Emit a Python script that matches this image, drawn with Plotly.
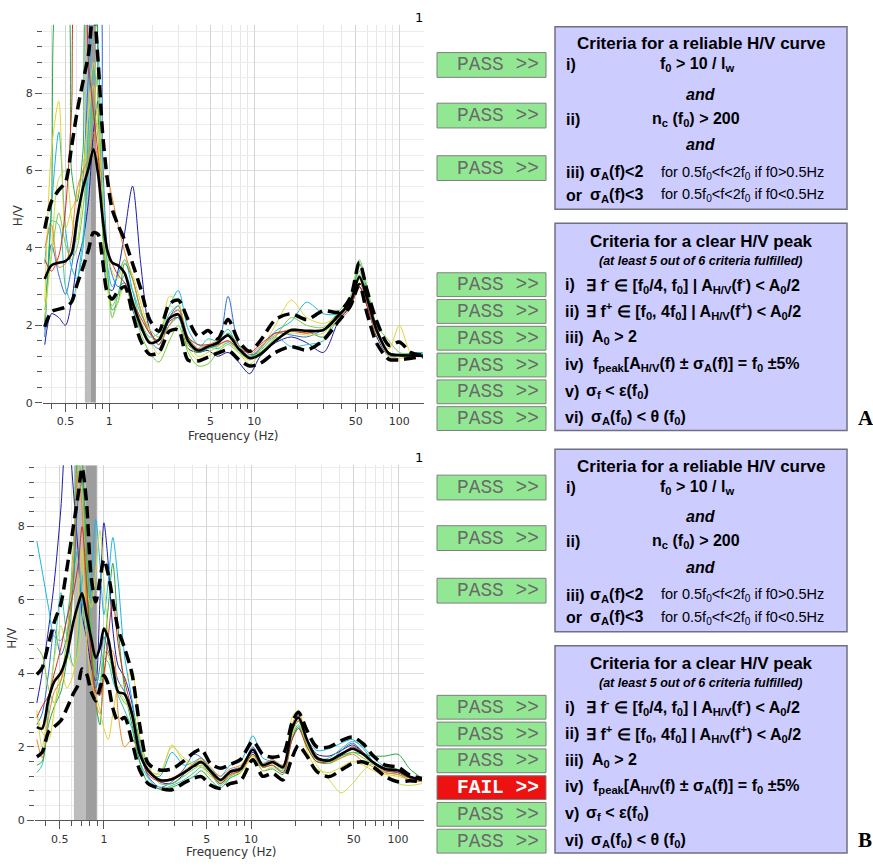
import plotly.graph_objects as go
import math

W, H = 873, 866

# ---------------- panel A data ----------------
freq_a = [0.36, 0.40, 0.45, 0.50, 0.55, 0.60, 0.66, 0.72, 0.78, 0.84, 0.90, 0.97, 1.05, 1.15, 1.28, 1.45,
          1.65, 1.9, 2.2, 2.6, 3.0, 3.5, 4.1, 4.8, 5.6, 6.6, 7.8, 9.3, 11, 14, 18, 23, 30, 38, 46, 53,
          60, 70, 85, 100, 120, 145]
mean_a = [3.2, 3.55, 3.62, 3.66, 3.85, 4.75, 5.55, 6.05, 6.55, 5.9, 4.8, 3.95, 3.62, 3.55, 3.35, 2.6,
          2.0, 1.55, 1.62, 2.18, 2.28, 1.6, 1.35, 1.45, 1.55, 1.74, 1.4, 1.15, 1.25, 1.6, 1.88, 1.86, 1.88,
          2.25, 2.6, 3.25, 2.7, 1.87, 1.27, 1.23, 1.22, 1.21]
upper_a = [4.5, 5.2, 5.5, 5.7, 6.6, 7.5, 8.3, 9.0, 10.2, 8.8, 7.0, 5.8, 5.0, 4.6, 4.2, 3.6,
           2.95, 2.15, 1.85, 2.55, 2.65, 2.15, 1.72, 1.87, 1.65, 2.15, 1.6, 1.33, 1.6, 2.15, 2.3, 2.15, 2.38,
           2.34, 2.72, 3.62, 2.9, 2.1, 1.48, 1.57, 1.3, 1.23]
lower_a = [1.96, 2.35, 2.42, 2.47, 2.6, 3.05, 3.5, 3.95, 4.4, 4.35, 3.7, 2.85, 2.68, 2.88, 3.0, 2.3,
           1.6, 1.25, 1.3, 1.85, 1.88, 1.1, 1.08, 1.18, 1.28, 1.36, 1.12, 0.95, 1.02, 1.3, 1.45, 1.36, 1.62,
           2.1, 2.5, 3.05, 2.3, 1.53, 1.12, 1.11, 1.15, 1.19]
win_a1 = [1.5, 2.3, 2.2, 2.0, 2.6, 3.6, 4.2, 5.2, 7.0, 7.8, 5.2, 3.0, 2.9, 3.4, 4.4, 5.6, 3.6, 1.9, 1.5, 2.1, 2.2,
          1.4, 1.3, 1.35, 1.2, 1.3, 1.05, 0.75, 1.2, 1.55, 1.7, 1.55, 1.3, 2.1, 2.5, 3.0, 2.5, 1.7, 1.2, 1.2, 1.25, 1.25]
win_a2 = [1.7, 4.1, 3.3, 2.8, 3.5, 4.5, 5.8, 8.5, 11, 11, 6.5, 4.0, 3.3, 3.0, 3.1, 2.4, 1.9, 1.6, 1.4, 2.2, 2.5,
          1.6, 1.3, 1.5, 1.45, 2.75, 1.5, 1.2, 1.4, 1.8, 1.75, 1.7, 1.9, 2.3, 2.5, 3.3, 2.8, 1.9, 1.25, 1.2, 1.22, 1.25]
win_a3 = [1.9, 5.0, 7.0, 4.5, 3.5, 3.2, 4.0, 7.2, 11, 9.2, 5.5, 3.6, 3.0, 3.3, 3.7, 2.9, 2.1, 1.7, 1.8, 2.5, 2.9,
          1.9, 1.5, 1.45, 1.4, 1.55, 1.35, 1.15, 1.4, 1.85, 2.1, 2.6, 2.3, 2.3, 2.65, 3.4, 2.8, 1.9, 1.3, 1.25, 1.28, 1.3]
win_a4 = [3.6, 4.7, 4.6, 3.0, 2.6, 3.1, 4.3, 6.0, 8.6, 8.0, 5.8, 3.6, 2.2, 2.8, 3.3, 2.9, 2.3, 1.9, 1.7, 2.3, 2.5,
          1.7, 1.4, 1.65, 1.6, 1.9, 1.4, 1.2, 1.35, 1.7, 1.45, 1.5, 1.6, 2.2, 2.6, 3.2, 2.7, 1.8, 1.25, 1.25, 1.27, 1.28]
win_a5 = [2.1, 5.0, 11, 11, 6.0, 5.2, 6.5, 11, 11, 7.5, 4.5, 3.3, 2.4, 2.6, 3.6, 3.2, 2.4, 1.8, 1.6, 2.0, 2.2,
          1.5, 1.3, 1.4, 1.5, 1.8, 1.5, 1.25, 1.3, 1.6, 1.9, 1.85, 1.7, 2.3, 2.6, 3.6, 2.9, 1.85, 1.3, 1.22, 1.25, 1.25]
win_a6 = [2.4, 3.8, 4.9, 4.1, 3.7, 4.0, 5.0, 6.5, 7.6, 6.8, 4.5, 3.0, 2.5, 2.8, 3.0, 2.5, 1.8, 1.3, 1.05, 1.6, 2.0,
          1.3, 0.95, 1.0, 1.3, 1.5, 1.3, 1.15, 1.3, 1.7, 2.2, 2.0, 1.95, 2.35, 2.75, 3.7, 3.0, 2.0, 1.6, 1.3, 1.25, 1.22]
win_a7 = [2.6, 6.5, 7.8, 4.5, 5.0, 5.3, 6.0, 7.5, 8.2, 7.0, 5.0, 3.9, 3.4, 3.2, 3.7, 3.3, 2.6, 1.9, 1.7, 2.75, 2.6,
          1.6, 1.2, 1.3, 1.45, 1.6, 1.3, 1.1, 1.35, 2.0, 2.65, 2.2, 2.05, 2.25, 2.55, 3.2, 2.6, 1.75, 1.4, 2.0, 1.3, 1.22]
win_a8 = [2.2, 3.9, 5.8, 6.0, 4.8, 4.2, 5.5, 7.6, 8.8, 8.0, 5.6, 3.2, 2.2, 2.6, 3.0, 2.7, 2.1, 1.6, 1.25, 2.5, 2.3,
          1.4, 1.1, 1.2, 1.35, 1.6, 1.3, 1.0, 1.25, 1.65, 1.8, 1.75, 1.8, 2.2, 2.55, 3.4, 2.7, 1.8, 1.2, 1.15, 1.2, 1.2]
win_a9 = [4.0, 4.6, 3.5, 3.6, 4.2, 5.5, 6.0, 6.3, 7.0, 6.2, 5.9, 5.8, 5.3, 4.6, 3.9, 3.2, 2.4, 1.8, 1.5, 2.0, 2.3,
          1.7, 1.4, 1.5, 1.6, 1.75, 1.5, 1.25, 1.45, 1.75, 1.9, 1.8, 1.9, 2.1, 2.45, 3.1, 2.6, 1.8, 1.25, 1.2, 1.2, 1.2]
win_a10 = [3.7, 3.4, 3.8, 5.0, 7.5, 11, 11, 8.8, 7.5, 6.4, 4.8, 3.9, 3.6, 3.3, 3.1, 2.6, 2.2, 1.8, 1.6, 2.2, 2.4,
           1.7, 1.5, 1.5, 1.5, 1.6, 1.4, 1.3, 1.5, 1.8, 1.85, 1.8, 1.9, 2.2, 2.5, 3.0, 2.5, 1.8, 1.3, 1.22, 1.22, 1.22]
band_a = [0.68, 0.75, 0.81]

# ---------------- panel B data ----------------
freq_b = [0.35, 0.38, 0.42, 0.46, 0.51, 0.56, 0.62, 0.67, 0.71, 0.76, 0.82, 0.88, 0.94, 1.0, 1.07, 1.15,
          1.25, 1.38, 1.55, 1.75, 2.0, 2.4, 2.9, 3.5, 4.1, 4.6, 5.3, 6.2, 7.2, 8.5, 10.3, 12, 14, 16.5,
          19, 21, 24, 28, 34, 41, 49, 58, 68, 82, 100, 120, 145]
mean_b = [2.54, 2.5, 3.3, 3.78, 4.02, 4.5, 5.4, 5.9, 6.18, 5.6, 4.95, 4.42, 4.7, 5.22, 4.95, 4.2,
          3.5, 3.44, 2.9, 1.82, 1.36, 1.1, 1.12, 1.3, 1.48, 1.59, 1.35, 1.1, 1.32, 1.4, 1.93, 1.5, 1.59, 1.45,
          2.5, 2.8, 2.2, 1.7, 1.63, 1.8, 1.95, 1.8, 1.57, 1.4, 1.36, 1.19, 1.10]
upper_b = [3.97, 4.15, 4.8, 5.4, 5.9, 6.85, 8.0, 8.9, 9.6, 8.7, 6.6, 5.95, 6.55, 7.1, 6.7, 6.0,
           5.2, 4.7, 4.0, 2.6, 1.55, 1.37, 1.4, 1.62, 1.85, 1.93, 1.55, 1.42, 1.52, 1.66, 2.15, 1.8, 1.72, 1.8,
           2.65, 2.94, 2.45, 2.0, 2.0, 2.17, 2.27, 2.08, 1.75, 1.5, 1.45, 1.23, 1.14]
lower_b = [1.73, 1.85, 2.4, 2.55, 2.72, 3.05, 3.45, 3.7, 4.12, 4.0, 3.5, 3.25, 3.6, 3.95, 3.7, 3.05,
           2.7, 2.8, 2.15, 1.37, 1.0, 0.87, 0.83, 1.02, 1.15, 1.19, 0.96, 0.87, 1.0, 1.08, 1.65, 1.2, 1.28, 1.1,
           1.7, 2.04, 1.75, 1.33, 1.19, 1.37, 1.55, 1.59, 1.45, 1.19, 1.05, 1.08, 1.05]
win_b1 = [3.2, 4.0, 5.2, 6.5, 8.5, 11, 9.0, 7.2, 5.6, 5.0, 4.2, 3.8, 6.0, 8.1, 7.0, 5.2, 4.2, 3.9, 3.2, 2.0, 1.4, 1.05,
          1.0, 1.25, 1.55, 1.6, 1.3, 1.05, 1.35, 1.45, 1.85, 1.5, 1.6, 1.45, 2.4, 2.7, 2.2, 1.8, 1.75, 1.9, 2.05, 1.85,
          1.6, 1.4, 1.3, 1.2, 1.1]
win_b2 = [2.6, 2.9, 4.0, 5.2, 4.5, 5.0, 6.5, 8.8, 9.2, 7.0, 4.5, 3.6, 4.2, 5.0, 4.6, 4.3, 3.8, 3.5, 3.0, 1.9, 1.2, 0.9,
          1.05, 1.4, 1.8, 1.7, 1.3, 1.0, 1.3, 1.4, 2.0, 1.55, 1.65, 1.4, 2.5, 2.85, 2.1, 1.7, 1.6, 1.9, 2.1, 1.85,
          1.55, 1.35, 1.3, 1.15, 1.1]
win_b3 = [7.6, 6.8, 5.8, 5.0, 4.9, 5.5, 6.8, 7.4, 6.0, 5.2, 6.5, 8.2, 7.0, 5.6, 6.5, 7.7, 6.5, 4.5, 3.3, 2.1, 1.3, 1.2,
          1.85, 1.5, 1.6, 1.7, 1.4, 1.2, 1.5, 1.6, 2.3, 1.7, 1.6, 1.5, 2.2, 2.5, 2.2, 1.9, 1.95, 2.1, 2.2, 1.95,
          1.6, 1.4, 1.3, 1.2, 1.12]
win_b4 = [1.3, 1.5, 3.0, 4.5, 6.2, 5.0, 4.2, 5.0, 6.5, 7.0, 5.3, 4.0, 3.6, 4.4, 4.3, 3.8, 3.4, 3.0, 2.5, 1.6, 1.15, 0.85,
          0.95, 1.1, 1.3, 1.45, 1.25, 0.95, 1.2, 1.35, 1.9, 1.45, 1.5, 1.35, 2.3, 2.6, 2.05, 1.65, 1.7, 1.95, 2.15, 2.0,
          1.7, 1.45, 1.35, 1.2, 1.1]
win_b5 = [1.5, 1.6, 2.6, 3.1, 3.5, 4.4, 6.5, 11, 10, 7.2, 5.0, 3.2, 2.6, 4.5, 5.8, 7.0, 5.2, 3.6, 2.6, 1.6, 1.0, 0.85,
          0.9, 1.05, 1.2, 1.35, 1.1, 0.88, 1.15, 1.3, 1.8, 1.35, 1.4, 1.25, 2.2, 2.55, 2.0, 1.6, 1.55, 1.75, 1.85, 1.8,
          1.75, 1.75, 1.8, 1.4, 1.15]
win_b6 = [4.7, 4.5, 3.6, 3.2, 3.8, 5.0, 7.5, 9.8, 9.2, 7.0, 5.2, 4.0, 3.8, 4.6, 4.5, 4.0, 3.5, 3.2, 3.0, 2.2, 1.5, 1.0,
          1.0, 1.2, 1.4, 1.5, 1.25, 1.0, 1.2, 1.35, 1.75, 1.45, 1.55, 1.4, 2.4, 2.7, 2.1, 1.65, 1.55, 1.7, 1.85, 1.7,
          1.5, 1.3, 1.25, 1.15, 1.08]
win_b7 = [2.9, 2.4, 2.2, 3.0, 4.1, 3.6, 4.0, 6.0, 7.4, 5.0, 3.8, 3.4, 3.0, 2.5, 2.2, 2.9, 3.6, 3.7, 4.1, 2.3, 1.4, 1.25,
          2.05, 1.6, 1.5, 1.45, 1.2, 1.05, 1.25, 1.3, 1.7, 1.35, 1.45, 1.3, 2.3, 2.75, 1.9, 1.4, 1.3, 1.45, 1.6, 1.5,
          1.35, 1.25, 1.2, 1.1, 1.05]
win_b8 = [3.0, 2.0, 3.2, 4.4, 5.3, 4.6, 4.2, 4.5, 5.5, 6.2, 5.8, 6.8, 7.9, 6.5, 5.0, 4.2, 3.5, 3.3, 2.8, 1.9, 1.3, 1.3,
          2.0, 1.7, 1.55, 1.65, 1.35, 1.05, 1.3, 1.45, 1.75, 1.5, 1.6, 1.5, 2.8, 3.0, 2.1, 1.5, 1.1, 0.75, 1.0, 1.35,
          1.55, 1.3, 1.0, 0.95, 1.0]
win_b9 = [2.2, 1.7, 2.8, 3.5, 3.8, 4.6, 7.0, 9.5, 8.5, 6.0, 4.6, 3.2, 2.9, 3.8, 4.6, 4.6, 2.9, 2.0, 2.2, 1.8, 1.3, 1.1,
          1.15, 1.35, 1.55, 1.7, 1.45, 1.2, 1.4, 1.5, 1.9, 1.55, 1.65, 1.5, 2.6, 2.95, 2.2, 1.75, 1.6, 1.7, 1.8, 1.6,
          1.45, 1.3, 1.25, 1.1, 1.05]
win_b10 = [2.8, 3.1, 3.4, 4.0, 4.7, 5.5, 6.2, 7.0, 8.0, 6.5, 4.5, 3.5, 3.4, 4.0, 5.0, 6.0, 4.8, 3.8, 3.0, 1.9, 1.25, 1.05,
           1.1, 1.3, 1.5, 1.55, 1.3, 1.0, 1.25, 1.35, 1.8, 1.45, 1.5, 1.3, 2.2, 2.5, 2.0, 1.6, 1.6, 1.8, 2.0, 1.85,
           1.55, 1.35, 1.3, 1.15, 1.08]
band_b = [0.625, 0.755, 0.895]

win_colors = ["#1c1ca8", "#2f6fd6", "#17b6e0", "#33c4b0", "#22a845", "#78cc3a",
              "#e5d230", "#c4de4c", "#e8862a", "#cc3322"]

x_major = [0.5, 1, 5, 10, 50, 100]
x_major_text = ["0.5", "1", "5", "10", "50", "100"]
x_minor = [0.4, 0.6, 0.7, 0.8, 0.9, 2, 3, 4, 6, 7, 8, 9, 20, 30, 40, 60, 70, 80, 90]
y_major = [0, 2, 4, 6, 8]
ytop_a, ytop_b = 9.77, 9.67

reliable_status = ["PASS", "PASS", "PASS"]
peak_status_a = ["PASS", "PASS", "PASS", "PASS", "PASS", "PASS"]
peak_status_b = ["PASS", "PASS", "PASS", "FAIL", "PASS", "PASS"]

fig = go.Figure()


def px(x):
    return x / W


def py(y):
    return 1 - y / H


windows_a = [win_a1, win_a2, win_a3, win_a4, win_a5, win_a6, win_a7, win_a8, win_a9, win_a10]
windows_b = [win_b1, win_b2, win_b3, win_b4, win_b5, win_b6, win_b7, win_b8, win_b9, win_b10]


def add_panel(freq, wins, mean, upper, lower, band, ytop, xa, ya):
    # f0 +/- sigma band (drawn as filled traces so it sits above the grid)
    for (b0, b1), col in (((band[0], band[1]), "#bdbdbd"), ((band[1], band[2]), "#9d9d9d")):
        fig.add_trace(go.Scatter(x=[b0, b0, b1, b1], y=[0, ytop, ytop, 0], mode="lines", fill="toself",
                                 fillcolor=col, line=dict(width=0, color=col), xaxis=xa, yaxis=ya,
                                 showlegend=False, hoverinfo="skip"))
    for w, c in zip(wins, win_colors):
        fig.add_trace(go.Scatter(x=freq, y=w, mode="lines", xaxis=xa, yaxis=ya,
                                 line=dict(color=c, width=1, shape="spline", smoothing=0.8),
                                 showlegend=False, hoverinfo="skip"))
    for s in (upper, lower):
        fig.add_trace(go.Scatter(x=freq, y=s, mode="lines", xaxis=xa, yaxis=ya,
                                 line=dict(color="black", width=3.5, dash="12px,6px", shape="spline", smoothing=0.8),
                                 showlegend=False, hoverinfo="skip"))
    fig.add_trace(go.Scatter(x=freq, y=mean, mode="lines", xaxis=xa, yaxis=ya,
                             line=dict(color="black", width=2.6, shape="spline", smoothing=0.8),
                             showlegend=False, hoverinfo="skip"))


add_panel(freq_a, windows_a, mean_a, upper_a, lower_a, band_a, ytop_a, "x", "y")
add_panel(freq_b, windows_b, mean_b, upper_b, lower_b, band_b, ytop_b, "x2", "y2")

tickfont = dict(family="DejaVu Sans", size=11, color="#333333")


def xcfg(domain, rng, anchor):
    return dict(type="log", domain=domain, range=rng, anchor=anchor,
                tickmode="array", tickvals=x_major, ticktext=x_major_text,
                ticks="outside", ticklen=8, tickcolor="#555555",
                showgrid=True, gridcolor="#d4d4d4", gridwidth=1,
                minor=dict(tickmode="array", tickvals=x_minor, ticks="outside", ticklen=5,
                           tickcolor="#555555", showgrid=True, gridcolor="#e6e6e6"),
                showline=True, linecolor="#555555", linewidth=1, zeroline=False,
                tickfont=tickfont)


def ycfg(domain, rng, anchor):
    return dict(domain=domain, range=rng, anchor=anchor,
                tickmode="array", tickvals=y_major,
                ticks="outside", ticklen=7, tickcolor="#555555",
                showgrid=True, gridcolor="#dcdcdc", gridwidth=1,
                minor=dict(dtick=0.4, tick0=0, ticks="outside", ticklen=5, tickcolor="#555555",
                           showgrid=True, gridcolor="#ececec"),
                showline=False, zeroline=False, tickfont=tickfont)


fig.update_layout(
    width=W, height=H, margin=dict(l=0, r=0, t=0, b=0),
    paper_bgcolor="white", plot_bgcolor="white", showlegend=False,
    xaxis=xcfg([px(43), px(424)], [math.log10(0.35), math.log10(148)], "y"),
    yaxis=ycfg([py(406), py(25)], [0, ytop_a], "x"),
    xaxis2=xcfg([px(35), px(424)], [math.log10(0.34), math.log10(150)], "y2"),
    yaxis2=ycfg([py(827), py(469)], [0, ytop_b], "x2"),
)


def text(x, y, t, size=14, anchor="left", family="Liberation Sans", color="black", angle=0):
    fig.add_annotation(x=px(x), y=py(y), xref="paper", yref="paper", text=t, showarrow=False,
                       xanchor=anchor, yanchor="middle", textangle=angle,
                       font=dict(family=family, size=size, color=color))


# axis titles and corner labels
text(18, 217, "H/V", 12, "center", "DejaVu Sans", "#333333", -90)
text(12, 643, "H/V", 12, "center", "DejaVu Sans", "#333333", -90)
text(233, 440, "Frequency (Hz)", 12, "center", "DejaVu Sans", "#333333")
text(231, 859, "Frequency (Hz)", 12, "center", "DejaVu Sans", "#333333")
text(419, 18, "1", 13, "center", "DejaVu Sans", "black")
text(419, 461, "1", 13, "center", "DejaVu Sans", "black")


def button(top, status, h=25):
    fail = status == "FAIL"
    fig.add_shape(type="rect", xref="paper", yref="paper", x0=px(437), x1=px(546),
                  y0=py(top + h), y1=py(top),
                  fillcolor="#ee1111" if fail else "#92e892",
                  line=dict(color="#7f7f7f", width=1))
    label = status + " &gt;&gt;"
    text(541, top + h / 2 + 0.5, "<b>" + label + "</b>" if fail else label,
         19.5, "right", "Liberation Mono", "white" if fail else "#6a6a6a")


def box(top, bottom):
    fig.add_shape(type="rect", xref="paper", yref="paper", x0=px(555), x1=px(847),
                  y0=py(bottom), y1=py(top), fillcolor="#ccccff",
                  line=dict(color="#6f6f82", width=1.5))


CX = 701
FS = 16
for dy, peak_status, letter in ((0, peak_status_a, "A"), (426, peak_status_b, "B")):
    # reliable curve box
    box(27 + dy, 211 + dy)
    for top, st in zip((53, 104, 157), reliable_status):
        button(top + dy, st)
    text(CX, 44 + dy, "<b>Criteria for a reliable H/V curve</b>", 17, "center")
    text(564, 65 + dy, "<b>i)</b>", FS)
    text(697, 65 + dy, "<b>f<sub>0</sub> &gt; 10 / l<sub>w</sub></b>", FS, "center")
    text(701, 95 + dy, "<b><i>and</i></b>", FS, "center")
    text(564, 120 + dy, "<b>ii)</b>", FS)
    text(696, 120 + dy, "<b>n<sub>c</sub> (f<sub>0</sub>) &gt; 200</b>", FS, "center")
    text(701, 146 + dy, "<b><i>and</i></b>", FS, "center")
    text(564, 174 + dy, "<b>iii)</b>", FS)
    text(588, 174 + dy, "<b>σ<sub>A</sub>(f)&lt;2</b>", FS)
    text(659, 174 + dy, "for 0.5f<sub>0</sub>&lt;f&lt;2f<sub>0</sub> if f0&gt;0.5Hz", 14.5)
    text(564, 197 + dy, "<b>or</b>", FS)
    text(588, 197 + dy, "<b>σ<sub>A</sub>(f)&lt;3</b>", FS)
    text(659, 197 + dy, "for 0.5f<sub>0</sub>&lt;f&lt;2f<sub>0</sub> if f0&lt;0.5Hz", 14.5)

    # clear peak box
    box(225 + dy, 434 + dy)
    for i, st in enumerate(peak_status):
        button(275 + 27 * i + dy, st, 24)
    text(CX, 243 + dy, "<b>Criteria for a clear H/V peak</b>", 17, "center")
    text(CX, 263 + dy, "<b><i>(at least 5 out of 6 criteria fulfilled)</i></b>", 12.5, "center")
    rows = [
        ("i)", "∃ f<sup>-</sup> ∈ [f<sub>0</sub>/4, f<sub>0</sub>] | A<sub>H/V</sub>(f<sup>-</sup>) &lt; A<sub>0</sub>/2", 584),
        ("ii)", "∃ f<sup>+</sup> ∈ [f<sub>0</sub>, 4f<sub>0</sub>] | A<sub>H/V</sub>(f<sup>+</sup>) &lt; A<sub>0</sub>/2", 584),
        ("iii)", "A<sub>0</sub> &gt; 2", 590),
        ("iv)", "f<sub>peak</sub>[A<sub>H/V</sub>(f) ± σ<sub>A</sub>(f)] = f<sub>0</sub> ±5%", 591),
        ("v)", "σ<sub>f</sub> &lt; ε(f<sub>0</sub>)", 584),
        ("vi)", "σ<sub>A</sub>(f<sub>0</sub>) &lt; θ (f<sub>0</sub>)", 589),
    ]
    for i, (lab, formula, fx) in enumerate(rows):
        yy = 287 + 26.8 * i + dy
        text(563, yy, "<b>" + lab + "</b>", FS)
        text(fx, yy, "<b>" + formula + "</b>", FS)
    text(856, 421 + dy, "<b>" + letter + "</b>", 21, "left", "Liberation Serif", "black")

fig.write_html("out.html", config={"displayModeBar": False},
               post_script="document.body.style.margin='0px';document.body.style.overflow='hidden';")
